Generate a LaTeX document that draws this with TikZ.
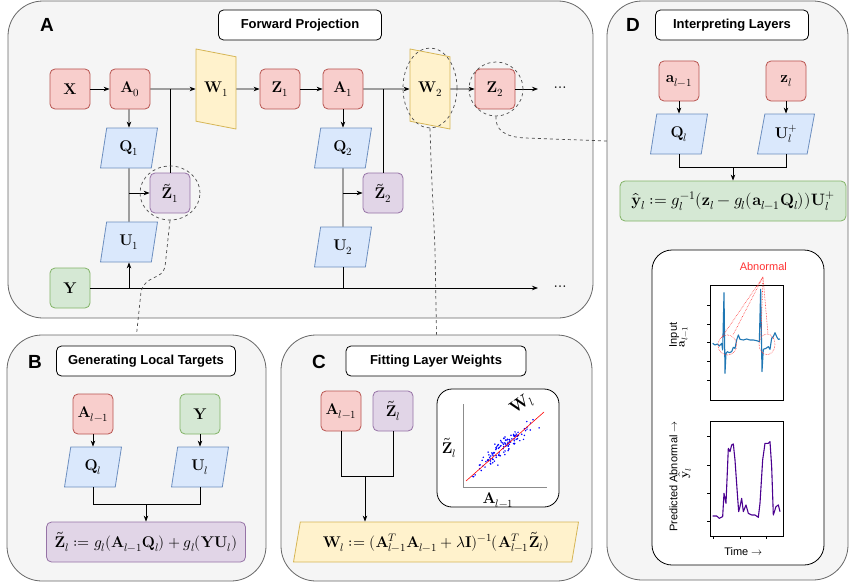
\documentclass[tikz,border=0pt]{standalone}
\usepackage{amsmath}
\usepackage{fontspec}
\usepackage{unicode-math}
\setmathfont{Latin Modern Math}
\setsansfont{Liberation Sans}
\usetikzlibrary{shapes.geometric,arrows.meta,calc}
\definecolor{panelfill}{HTML}{F5F5F5}
\definecolor{panelline}{HTML}{666666}
\definecolor{redfill}{HTML}{F8CECC}
\definecolor{redline}{HTML}{B85450}
\definecolor{bluefill}{HTML}{DAE8FC}
\definecolor{blueline}{HTML}{6C8EBF}
\definecolor{yellowfill}{HTML}{FFF2CC}
\definecolor{yellowline}{HTML}{D6B656}
\definecolor{greenfill}{HTML}{D5E8D4}
\definecolor{greenline}{HTML}{82B366}
\definecolor{purpfill}{HTML}{E1D5E7}
\definecolor{purpline}{HTML}{9673A6}
\definecolor{ecgblue}{HTML}{1F77B4}
\definecolor{predpurp}{HTML}{4B0090}
\newcommand{\mathsz}{\fontsize{15.5}{17}\selectfont}
\tikzset{>={Stealth[length=6pt,width=4.5pt]},
  panel/.style={draw=panelline, fill=panelfill, rounded corners=35pt, line width=0.8pt},
  title/.style={draw, fill=white, rounded corners=5pt, line width=0.8pt, minimum height=30pt,
    font=\sffamily\bfseries\fontsize{13}{15}\selectfont},
  letter/.style={font=\sffamily\bfseries\fontsize{19}{21}\selectfont},
  box/.style={draw, rounded corners=5pt, minimum width=40pt, minimum height=40pt, inner sep=0pt,
    line width=0.8pt, font=\mathsz},
  act/.style={box, fill=redfill, draw=redline},
  tgt/.style={box, fill=purpfill, draw=purpline},
  lbl/.style={box, fill=greenfill, draw=greenline},
  slant/.style={trapezium, trapezium left angle=67, trapezium right angle=113, trapezium stretches body,
    inner sep=0pt, line width=0.8pt, font=\mathsz},
  proj/.style={slant, fill=bluefill, draw=blueline, minimum width=57pt, minimum height=40pt},
  wt/.style={slant, trapezium left angle=72, trapezium right angle=108, fill=yellowfill, draw=yellowline,
    shape border rotate=90, minimum width=80pt, minimum height=40pt},
  ring/.style={ellipse, draw=black!70, dashed, line width=0.7pt, inner sep=0pt},
  link/.style={draw=black!70, dashed, line width=0.7pt},
  wire/.style={line width=0.8pt},
  small/.style={font=\sffamily\fontsize{11}{13}\selectfont},
  callout/.style={red!80, densely dotted, line width=0.6pt}
}
\begin{document}
\begin{tikzpicture}[x=1pt,y=-1pt]
\useasboundingbox (0,0) rectangle (851,586);
% panels
\node[panel, minimum width=585pt, minimum height=317pt] at (300.5,159.5) (pa) {};
\node[panel, minimum width=259pt, minimum height=246pt] at (136.5,458) (pb) {};
\node[panel, minimum width=311pt, minimum height=246pt] at (436.5,458) (pc) {};
\node[panel, minimum width=241pt, minimum height=579pt] at (727.5,290.5) (pd) {};
\node[letter] at (47,25) (la) {A};
\node[letter] at (35,362) (lb) {B};
\node[letter] at (319,362) (lc) {C};
\node[letter] at (633,25) (ld) {D};
\node[title, minimum width=163pt] at (300,25) (ta) {Forward Projection};
\node[title, minimum width=179pt] at (146,361) (tb) {Generating Local Targets};
\node[title, minimum width=180pt] at (436,361) (tc) {Fitting Layer Weights};
\node[title, minimum width=153pt] at (732,25) (td) {Interpreting Layers};

% A: forward projection
\node[act] at (70,89) (x) {$\mathbf{X}$};
\node[act] at (130,89) (a0) {$\mathbf{A}_0$};
\node[wt] at (216,89) (w1) {$\mathbf{W}_1$};
\node[act] at (280,89) (z1) {$\mathbf{Z}_1$};
\node[act] at (343,89) (a1) {$\mathbf{A}_1$};
\node[wt] at (430,89) (w2) {$\mathbf{W}_2$};
\node[act] at (495,89) (z2) {$\mathbf{Z}_2$};
\node[proj] at (129,148) (q1) {$\mathbf{Q}_1$};
\node[proj] at (129,242) (u1) {$\mathbf{U}_1$};
\node[tgt] at (170,193) (zt1) {$\tilde{\mathbf{Z}}_1$};
\node[proj] at (343,148) (q2) {$\mathbf{Q}_2$};
\node[proj] at (343,247) (u2) {$\mathbf{U}_2$};
\node[tgt] at (383,193) (zt2) {$\tilde{\mathbf{Z}}_2$};
\node[lbl] at (70,288) (y) {$\mathbf{Y}$};
\coordinate (b1) at (170,89);
\coordinate (b2) at (383,89);
\coordinate (zend) at (538,89);
\coordinate (yend) at (538,288);
\node[font=\mathsz] at (561,89) (zdots) {$\cdots$};
\node[font=\mathsz] at (561,288) (ydots) {$\cdots$};
\draw[wire,->] (x) -- (a0);
\draw[wire,->] (a0) -- (w1);
\draw[wire,->] (w1) -- (z1);
\draw[wire,->] (z1) -- (a1);
\draw[wire,->] (a1) -- (w2);
\draw[wire,->] (w2) -- (z2);
\draw[wire,->] (z2) -- (zend);
\draw[wire] (b1) -- (zt1);
\draw[wire] (b2) -- (zt2);
\draw[wire,->] (a0.south -| q1) -- (q1);
\draw[wire,->] (a1) -- (q2);
\draw[wire] (q1) -- (u1);
\draw[wire] (q2) -- (u2);
\draw[wire,->] (q1 |- zt1) -- (zt1);
\draw[wire,->] (q2 |- zt2) -- (zt2);
\draw[wire,->] (y) -- (yend);
\draw[wire,->] (y -| u1) -- (u1);
\draw[wire] (y -| u2) -- (u2);
\node[ring, minimum width=60pt, minimum height=54pt] at (170,193) (ring1) {};
\node[ring, minimum width=54pt, minimum height=80pt] at (430,88) (ring2) {};
\node[ring, minimum width=54pt, minimum height=54pt] at (496,89) (ring3) {};
\coordinate (dend) at (607,141);
\draw[link] (ring1.south) -- (165,267) .. controls (162,280) and (145,275) .. (141,292) -- (pb.north);
\draw[link] (ring2.south) -- (431,160) -- (435,250) -- (pc.north);
\draw[link] (ring3.south) .. controls (495,130) and (505,137) .. (525,138) -- (dend);

% B: local targets
\node[act] at (93,414) (ba) {$\mathbf{A}_{l-1}$};
\node[lbl] at (200,414) (by) {$\mathbf{Y}$};
\node[proj] at (93,467) (bq) {$\mathbf{Q}_l$};
\node[proj] at (200,467) (bu) {$\mathbf{U}_l$};
\node[tgt, minimum width=199pt] at (146,542) (bform) {$\tilde{\mathbf{Z}}_l := g_l(\mathbf{A}_{l-1}\mathbf{Q}_l) + g_l(\mathbf{Y}\mathbf{U}_l)$};
\coordinate (bj) at (146,504);
\draw[wire,->] (ba) -- (bq);
\draw[wire,->] (by) -- (bu);
\draw[wire] (bq) -- (bq |- bj) -- (bu |- bj) -- (bu);
\draw[wire,->] (bj) -- (bform);

% C: layer weights
\node[act] at (341,411) (ca) {$\mathbf{A}_{l-1}$};
\node[tgt] at (393,411) (cz) {$\tilde{\mathbf{Z}}_l$};
\node[slant, trapezium left angle=71, trapezium right angle=109, fill=yellowfill, draw=yellowline,
  minimum width=285pt, minimum height=40pt] at (436,542) (cform)
  {$\mathbf{W}_l := (\mathbf{A}_{l-1}^T\mathbf{A}_{l-1} + \lambda\mathbf{I})^{-1}(\mathbf{A}_{l-1}^T\tilde{\mathbf{Z}}_l)$};
\coordinate (cj) at (365,476);
\draw[wire] (ca) -- (ca |- cj) -- (cz |- cj) -- (cz);
\draw[wire,->] (cj) -- (cj |- cform.north);
\draw[fill=white, rounded corners=15pt, line width=0.8pt] (437,389) rectangle (559,507);
\draw[black!45, line width=0.6pt] (463,404) -- (463,487) -- (547,487);
\pgfmathsetseed{11}
\foreach \i in {1,...,120}{
  \pgfmathsetmacro{\t}{(rnd+rnd+rnd)/3}
  \pgfmathsetmacro{\n}{(rnd+rnd+rnd-1.5)*6.5}
  \fill[blue] (466+78*\t+0.68*\n, 481-69*\t+0.74*\n) circle (0.85pt);
}
\draw[red, line width=0.6pt] (466,481) -- (544,412);
\node[font=\mathsz] at (449,448) (czl) {$\tilde{\mathbf{Z}}_l$};
\node[font=\mathsz] at (498,500) (cal) {$\mathbf{A}_{l-1}$};
\node[font=\fontsize{17}{19}\selectfont, rotate=35] at (522,405) (cwl) {$\mathbf{W}_l$};

% D: interpreting layers
\node[act] at (679,81) (da) {$\mathbf{a}_{l-1}$};
\node[act] at (786,81) (dz) {$\mathbf{z}_l$};
\node[proj] at (679,134) (dq) {$\mathbf{Q}_l$};
\node[proj] at (786,134) (du) {$\mathbf{U}_l^+$};
\node[lbl, minimum width=226pt, font=\fontsize{16.5}{18}\selectfont] at (733,201) (dform) {$\hat{\mathbf{y}}_l := g_l^{-1}(\mathbf{z}_l - g_l(\mathbf{a}_{l-1}\mathbf{Q}_l))\mathbf{U}_l^+$};
\coordinate (dj) at (733,167);
\draw[wire,->] (da) -- (dq);
\draw[wire,->] (dz) -- (du);
\draw[wire] (dq) -- (dq |- dj) -- (du |- dj) -- (du);
\draw[wire,->] (dj) -- (dform);
\draw[fill=white, rounded corners=20pt, line width=0.8pt] (652,250) rectangle (824,565);
\begin{scope}[shift={(640,240)}, x=0.3333pt, y=-0.3333pt]
  \draw[line width=0.6pt] (210,137) rectangle (430,480);
  \draw[line width=0.6pt] (210,545) rectangle (430,888);
  \foreach \ty in {195,252,308,365,422} \draw[line width=0.6pt] (210,\ty) -- (200,\ty);
  \foreach \ty in {590,675,760,845} \draw[line width=0.6pt] (210,\ty) -- (200,\ty);
  \foreach \tx in {220,300,380} \draw[line width=0.6pt] (\tx,888) -- (\tx,898);
  \draw[ecgblue, line width=1.1pt, line join=round] (218,310) -- (225,315) -- (232,312) -- (238,318) -- (245,310)
    -- (248,330) -- (252,158) -- (255,400) -- (258,340) -- (262,335) -- (268,338) -- (275,335) -- (280,322)
    -- (285,325) -- (290,300) -- (295,285) -- (300,298) -- (310,300) -- (320,297) -- (330,300) -- (340,300)
    -- (350,302) -- (358,305) -- (362,148) -- (366,395) -- (370,328) -- (378,325) -- (385,320) -- (390,328)
    -- (395,295) -- (400,290) -- (405,278) -- (410,290) -- (415,298) -- (420,297);
  \draw[predpurp, line width=1.1pt, line join=round] (218,828) -- (230,828) -- (238,835) -- (248,830) -- (252,760)
    -- (258,790) -- (265,625) -- (270,635) -- (275,615) -- (280,612) -- (285,660) -- (292,760) -- (296,815)
    -- (300,800) -- (305,775) -- (310,815) -- (318,795) -- (325,820) -- (335,825) -- (345,825) -- (355,832)
    -- (360,790) -- (368,660) -- (375,610) -- (385,610) -- (390,605) -- (395,680) -- (400,825) -- (408,800)
    -- (415,795) -- (420,815);
  \draw[callout] (262,315) ellipse [x radius=28, y radius=30];
  \draw[callout] (381,313) ellipse [x radius=24, y radius=31];
  \coordinate (apex) at (369,111);
  \draw[callout] (246,291) -- (apex) -- (279,285);
  \draw[callout] (363,285) -- (apex) -- (384,282);
  \node[small, text=red!80] at (370,80) (abn) {Abnormal};
  \node[small, rotate=90] at (103,285) (inp) {Input};
  \node[font=\fontsize{12}{14}\selectfont, rotate=90] at (130,290) (inpa) {$\mathbf{a}_{l-1}$};
  \node[small, rotate=90] at (100,710) (pred) {Predicted Abnormal $\rightarrow$};
  \node[font=\fontsize{12}{14}\selectfont, rotate=90] at (135,700) (predy) {$\hat{\mathbf{y}}_l$};
  \node[small] at (310,935) (time) {Time $\rightarrow$};
\end{scope}
\end{tikzpicture}
\end{document}
